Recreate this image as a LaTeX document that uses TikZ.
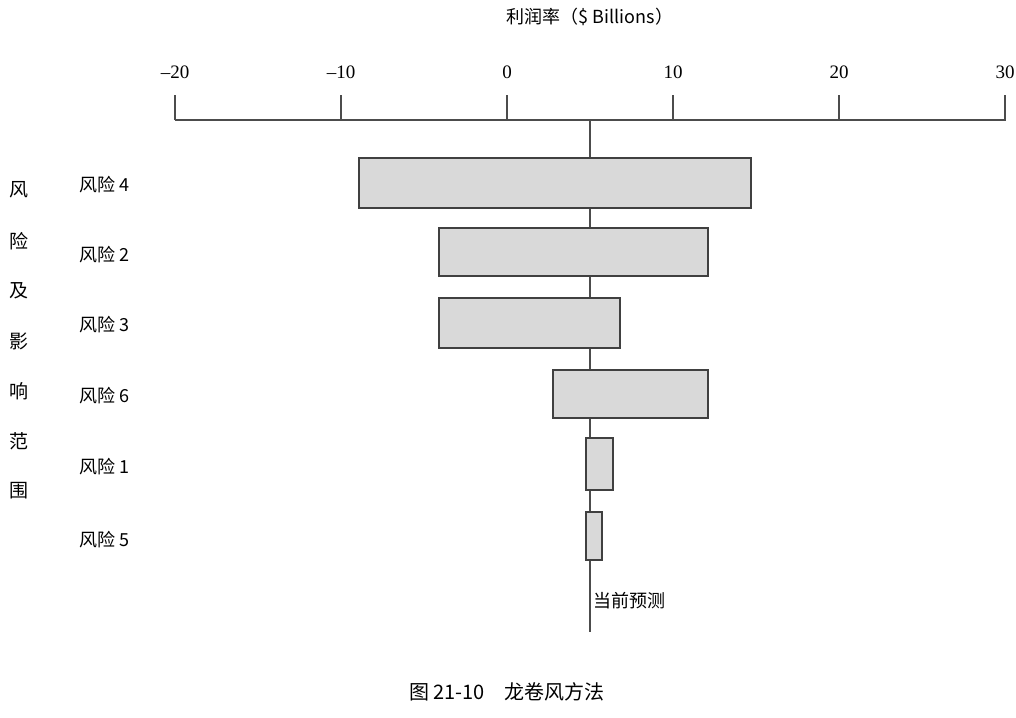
\documentclass[tikz,border=0pt]{standalone}
\usepackage{fontspec}
\newfontfamily\cjk{Noto Sans CJK SC}
\setmainfont{Liberation Serif}
\begin{document}
\begin{tikzpicture}[x=1pt,y=-1pt,
  bar/.style={draw=black!75,line width=1.6pt,fill=black!15},
  lab/.style={font=\cjk\fontsize{18}{20}\selectfont,anchor=west},
  num/.style={font=\fontsize{19}{21}\selectfont}]
\useasboundingbox (0,0) rectangle (1016,717);
% axis
\draw[line width=1.4pt,black!70] (175,120) coordinate (al) -- (1006,120) coordinate (ar);
\foreach \v/\x in {{\char"2013 20}/175,{\char"2013 10}/341,0/507,10/673,20/839,30/1005}{
  \draw[line width=1.4pt,black!70] (\x,120) -- (\x,95);
  \node[num] (t\x) at (\x,72) {\v};
}
\node[font=\cjk\fontsize{18}{20}\selectfont] (title) at (590,17) {利润率（\$ Billions）};
% center line
\coordinate (ct) at (590,120);
\coordinate (cb) at (590,632);
\draw[line width=1.4pt,black!70] (ct) -- (cb);
% bars
\draw[bar] (359,158) rectangle (751,208);
\draw[bar] (439,228) rectangle (708,276);
\draw[bar] (439,298) rectangle (620,348);
\draw[bar] (553,370) rectangle (708,418);
\draw[bar] (586,438) rectangle (613,490);
\draw[bar] (586,512) rectangle (602,560);
% labels
\foreach \t/\y [count=\i] in {4/185,2/255,3/325,6/396,1/467,5/540}{
  \node[lab] (r\i) at (76,\y) {风险 \t};
}
\foreach \c/\y [count=\i] in {风/190,险/241,及/291,影/341,响/391,范/441,围/491}{
  \node[font=\cjk\fontsize{19}{21}\selectfont] (v\i) at (19,\y) {\c};
}
\node[lab] (cur) at (590,601) {当前预测};
\node[font=\cjk\fontsize{20}{22}\selectfont] (cap) at (507,692) {图 21-10\quad 龙卷风方法};
\end{tikzpicture}
\end{document}
